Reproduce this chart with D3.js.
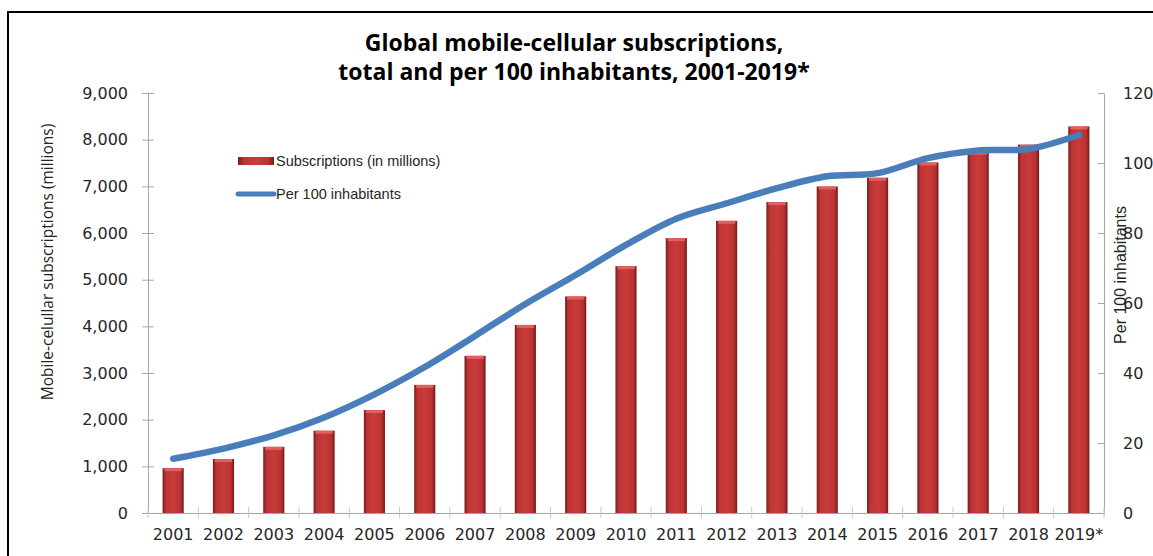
<!DOCTYPE html>
<html>
<head>
<meta charset="utf-8">
<script src="https://cdn.jsdelivr.net/npm/d3@7"></script>
<style>
  body { margin: 0; background: #fff; }
  svg { display: block; }
  .tick text { font-family: "DejaVu Sans", Verdana, sans-serif; font-size: 16px; fill: #262626; }
</style>
</head>
<body>
<div id="chart"></div>
<script>
const years = ['2001', '2002', '2003', '2004', '2005', '2006', '2007', '2008', '2009', '2010',
    '2011', '2012', '2013', '2014', '2015', '2016', '2017', '2018', '2019*'];
const subscriptions = [961, 1157, 1418, 1763, 2205, 2745, 3368, 4030, 4640, 5290,
    5890, 6261, 6661, 6997, 7184, 7511, 7740, 7893, 8283];
const per100 = [15.5, 18.4, 22.2, 27.3, 33.9, 41.7, 50.6, 59.7, 68.0, 76.6,
    84.1, 88.5, 92.8, 96.2, 97.1, 101.4, 103.6, 104.0, 108.0];
const leftTicks = [0, 1000, 2000, 3000, 4000, 5000, 6000, 7000, 8000, 9000];
const rightTicks = [0, 20, 40, 60, 80, 100, 120];

const width = 1153;
const height = 556;
const margin = { top: 93, right: 49, bottom: 43, left: 148 };
const innerWidth = width - margin.left - margin.right;
const innerHeight = height - margin.top - margin.bottom;

const svg = d3.select('#chart')
    .append('svg')
    .attr('width', width)
    .attr('height', height);

// bar gradient, darker at the edges like the Excel bevel
const defs = svg.append('defs');
const grad = defs.append('linearGradient')
    .attr('id', 'barGrad')
    .attr('x1', '0%').attr('x2', '100%').attr('y1', '0%').attr('y2', '0%');
grad.append('stop').attr('offset', '0%').attr('stop-color', '#7a1c1c');
grad.append('stop').attr('offset', '16%').attr('stop-color', '#bd3434');
grad.append('stop').attr('offset', '50%').attr('stop-color', '#c93b3b');
grad.append('stop').attr('offset', '84%').attr('stop-color', '#b93232');
grad.append('stop').attr('offset', '100%').attr('stop-color', '#751a1a');

// outer frame
svg.append('rect')
    .attr('x', 8)
    .attr('y', 12)
    .attr('width', width + 20)
    .attr('height', height + 20)
    .attr('fill', 'none')
    .attr('stroke', '#000')
    .attr('stroke-width', 2);

// title
const title = svg.append('text')
    .attr('text-anchor', 'middle')
    .attr('font-family', '"Open Sans", sans-serif')
    .attr('font-weight', 'bold')
    .attr('font-size', 23)
    .attr('fill', '#000');
title.append('tspan').attr('x', 574).attr('y', 51).text('Global mobile-cellular subscriptions,');
title.append('tspan').attr('x', 574).attr('y', 80).text('total and per 100 inhabitants, 2001-2019*');

const g = svg.append('g')
    .attr('transform', `translate(${margin.left}, ${margin.top})`);

const xScale = d3.scaleBand()
    .domain(years)
    .range([0, innerWidth])
    .paddingInner(0.58)
    .paddingOuter(0.29);

const xPoint = d3.scaleBand()
    .domain(years)
    .range([0, innerWidth]);

const yLeft = d3.scaleLinear()
    .domain([0, 9000])
    .range([innerHeight, 0]);

const yRight = d3.scaleLinear()
    .domain([0, 120])
    .range([innerHeight, 0]);

// left axis
const leftAxis = g.append('g')
    .call(d3.axisLeft(yLeft)
        .tickValues(leftTicks)
        .tickFormat(d3.format(','))
        .tickSizeInner(6)
        .tickSizeOuter(0)
        .tickPadding(14));
leftAxis.select('.domain').attr('stroke', '#a6a6a6');
leftAxis.selectAll('.tick line').attr('stroke', '#a6a6a6').attr('x2', 6).attr('x1', -6);

// right axis
const rightAxis = g.append('g')
    .attr('transform', `translate(${innerWidth}, 0)`)
    .call(d3.axisRight(yRight)
        .tickValues(rightTicks)
        .tickSizeInner(6)
        .tickSizeOuter(0)
        .tickPadding(13));
rightAxis.select('.domain').attr('stroke', '#a6a6a6');
rightAxis.selectAll('.tick line').attr('stroke', '#a6a6a6').attr('x1', -6).attr('x2', 0);

// bars
const bars = g.selectAll('.bar')
    .data(years.map((y, i) => ({ year: y, value: subscriptions[i] })))
    .enter()
    .append('g')
    .attr('class', 'bar');

bars.append('rect')
    .attr('x', d => xScale(d.year))
    .attr('y', d => yLeft(d.value))
    .attr('width', xScale.bandwidth())
    .attr('height', d => innerHeight - yLeft(d.value))
    .attr('fill', 'url(#barGrad)');

bars.append('rect')
    .attr('x', d => xScale(d.year) + 2)
    .attr('y', d => yLeft(d.value))
    .attr('width', xScale.bandwidth() - 4)
    .attr('height', 3)
    .attr('fill', '#e06060');

// bottom axis
const bottomAxis = g.append('g')
    .attr('transform', `translate(0, ${innerHeight})`)
    .call(d3.axisBottom(xPoint)
        .tickSize(0)
        .tickPadding(16));
bottomAxis.select('.domain').attr('stroke', '#a6a6a6');
bottomAxis.selectAll('.tick text').attr('dy', '0.71em');

// category separators
g.append('g')
    .selectAll('line')
    .data(years.concat(['end']))
    .enter()
    .append('line')
    .attr('x1', (d, i) => i * xPoint.step())
    .attr('x2', (d, i) => i * xPoint.step())
    .attr('y1', innerHeight - 6)
    .attr('y2', innerHeight + 5)
    .attr('stroke', '#c8c8c8');

// per 100 line
const line = d3.line()
    .x((d, i) => xPoint(years[i]) + xPoint.bandwidth() / 2)
    .y(d => yRight(d))
    .curve(d3.curveCatmullRom.alpha(0.5));

g.append('path')
    .datum(per100)
    .attr('d', line)
    .attr('fill', 'none')
    .attr('stroke', '#4a7ebb')
    .attr('stroke-width', 6.5)
    .attr('stroke-linecap', 'round');

// axis titles
svg.append('text')
    .attr('transform', 'translate(53, 262) rotate(-90)')
    .attr('text-anchor', 'middle')
    .attr('font-family', '"Open Sans", sans-serif')
    .attr('font-size', 15.5)
    .attr('fill', '#262626')
    .text('Mobile-celullar subscriptions  (millions)');

svg.append('text')
    .attr('transform', 'translate(1126, 275) rotate(-90)')
    .attr('text-anchor', 'middle')
    .attr('font-family', '"Liberation Sans", Arial, sans-serif')
    .attr('font-size', 16)
    .attr('fill', '#262626')
    .text('Per 100 inhabitants');

// legend
const legend = svg.append('g')
    .attr('font-family', '"Liberation Sans", Arial, sans-serif')
    .attr('font-size', 14.5)
    .attr('fill', '#262626');

legend.append('rect')
    .attr('x', 238)
    .attr('y', 157)
    .attr('width', 36)
    .attr('height', 8)
    .attr('fill', 'url(#barGrad)');
legend.append('text')
    .attr('x', 276)
    .attr('y', 161)
    .attr('dy', '0.35em')
    .text('Subscriptions (in millions)');

legend.append('line')
    .attr('x1', 238)
    .attr('x2', 274)
    .attr('y1', 194)
    .attr('y2', 194)
    .attr('stroke', '#4a7ebb')
    .attr('stroke-width', 5)
    .attr('stroke-linecap', 'round');
legend.append('text')
    .attr('x', 276)
    .attr('y', 194)
    .attr('dy', '0.35em')
    .text('Per 100 inhabitants');
</script>
</body>
</html>
